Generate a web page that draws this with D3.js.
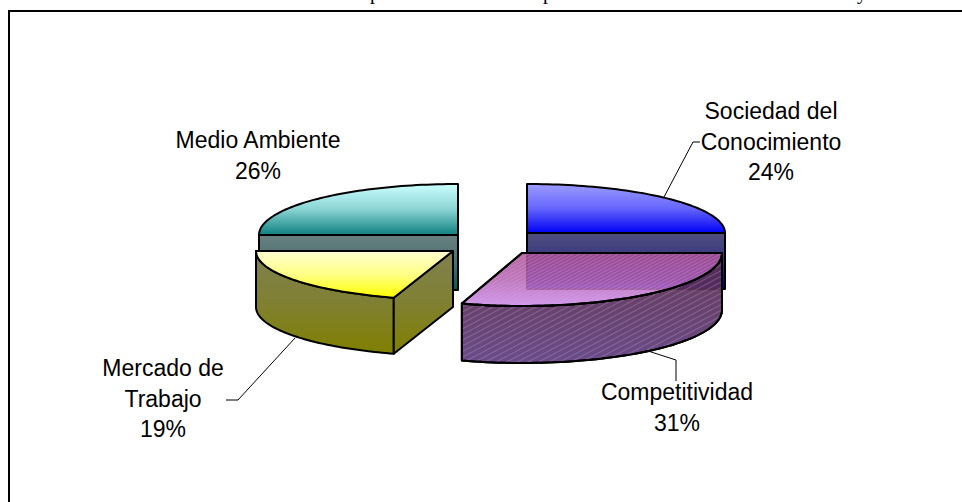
<!DOCTYPE html>
<html>
<head>
<meta charset="utf-8">
<style>
  html, body { margin: 0; padding: 0; background: #fff; overflow: hidden; }
  text { font-family: "Liberation Sans", Arial, sans-serif; font-size: 23px; fill: #000; }
</style>
<script src="https://d3js.org/d3.v7.min.js"></script>
</head>
<body>
<svg width="962" height="502"></svg>
<script>

var categories = ["Sociedad del Conocimiento", "Competitividad", "Mercado de Trabajo", "Medio Ambiente"];
var shares = [24, 31, 19, 26];
var labelLines = [["Sociedad del", "Conocimiento", "24%"], ["Competitividad", "31%"], ["Mercado de", "Trabajo", "19%"], ["Medio Ambiente", "26%"]];
var clippedLetters = ["p", "p", "y"];

var svg = d3.select("svg");
var defs = svg.append("defs");

// the tilted pie squeezes the angles a bit, this maps pie angle -> drawn angle
var deg = Math.PI / 180;
var warp = d3.scaleLinear()
    .domain([0, 86.4, 198, 266.4, 360].map(function(d) { return d * deg; }))
    .range([0, 90, 197.5, 270, 360].map(function(d) { return d * deg; }));

var pie = d3.pie().sort(null);
var arcs = pie(shares);

// exploded slices: each one has its own apex and ellipse
var slices = [
  { cx: 527, cy: 233, rx: 198, ry: 49, depth: 56, top: ["#9c9cff", "#0000f5"], side: ["#50507e", "#00008a"] },
  { cx: 522, cy: 253, rx: 200, ry: 53, depth: 57, top: ["#a84c90", "#c888e8"], side: ["#5a2c50", "#5e3c80"] },
  { cx: 453, cy: 251, rx: 197, ry: 49, depth: 56, top: ["#ffffd0", "#ffff00"], side: ["#80804f", "#808000"] },
  { cx: 458, cy: 235, rx: 199, ry: 51, depth: 55, top: ["#ccffff", "#0e8080"], side: ["#6a8080", "#0a5a5a"] }
];

slices.forEach(function(s, i) {
  s.a0 = warp(arcs[i].startAngle);
  s.a1 = warp(arcs[i].endAngle);
  ["top", "side"].forEach(function(part) {
    var grad = defs.append("linearGradient")
        .attr("id", part + i)
        .attr("x1", 0).attr("y1", 0).attr("x2", 0).attr("y2", 1);
    grad.append("stop").attr("offset", "0%").attr("stop-color", s[part][0]);
    grad.append("stop").attr("offset", "50%").attr("stop-color", d3.interpolateRgb(s[part][0], s[part][1])(0.35));
    grad.append("stop").attr("offset", "100%").attr("stop-color", s[part][1]);
  });
});

// hatching of the Competitividad slice
function hatch(id, size, color, width) {
  var p = defs.append("pattern")
      .attr("id", id)
      .attr("patternUnits", "userSpaceOnUse")
      .attr("width", size).attr("height", size)
      .attr("patternTransform", "rotate(62)");
  p.append("line")
      .attr("x1", size / 2).attr("y1", 0).attr("x2", size / 2).attr("y2", size)
      .attr("stroke", color).attr("stroke-width", width);
}
hatch("hatchSide", 5, "#b9a4c8", 1);
hatch("hatchTop", 3, "#e0a8e8", 1);

function pt(s, a, dy) {
  return [s.cx + s.rx * Math.sin(a), s.cy - s.ry * Math.cos(a) + (dy || 0)];
}

function arcPoints(s, a0, a1, dy) {
  var n = 60;
  return d3.range(n + 1).map(function(k) { return pt(s, a0 + (a1 - a0) * k / n, dy); });
}

var line = d3.line();

function topPath(s) {
  return line([[s.cx, s.cy]].concat(arcPoints(s, s.a0, s.a1))) + "Z";
}

// outer wall, only the part of the rim that faces the viewer
function wallPath(s) {
  var a0 = Math.max(s.a0, 90 * deg), a1 = Math.min(s.a1, 270 * deg);
  if (a1 <= a0) return null;
  return line(arcPoints(s, a0, a1).concat(arcPoints(s, a1, a0, s.depth))) + "Z";
}

// flat cut face that is turned to the viewer
function cutPath(s, a) {
  var p = pt(s, a);
  return line([[s.cx, s.cy], p, [p[0], p[1] + s.depth], [s.cx, s.cy + s.depth]]) + "Z";
}

var faces = [
  { slice: 3, d: cutPath(slices[3], slices[3].a0), fill: "url(#side3)" },
  { slice: 3, d: topPath(slices[3]), fill: "url(#top3)" },
  { slice: 0, d: cutPath(slices[0], slices[0].a1), fill: "url(#side0)" },
  { slice: 0, d: topPath(slices[0]), fill: "url(#top0)" },
  { slice: 2, d: wallPath(slices[2]), fill: "url(#side2)" },
  { slice: 2, d: cutPath(slices[2], slices[2].a0), fill: "url(#side2)" },
  { slice: 2, d: topPath(slices[2]), fill: "url(#top2)" },
  { slice: 1, d: wallPath(slices[1]), fill: "url(#side1)", op: 0.92 },
  { slice: 1, d: wallPath(slices[1]), fill: "url(#hatchSide)", op: 0.35 },
  { slice: 1, d: topPath(slices[1]), fill: "url(#top1)", op: 0.85 },
  { slice: 1, d: topPath(slices[1]), fill: "url(#hatchTop)", op: 0.3 }
];

svg.append("g").selectAll("path")
  .data(faces)
  .enter().append("path")
    .attr("d", function(d) { return d.d; })
    .attr("fill", function(d) { return d.fill; })
    .attr("fill-opacity", function(d) { return d.op || 1; })
    .attr("stroke", "#000")
    .attr("stroke-width", 2)
    .attr("stroke-linejoin", "round");

// frame, the crop cuts off its right and bottom sides
svg.append("path")
  .attr("d", "M962,11H9V502")
  .attr("fill", "none")
  .attr("stroke", "#000")
  .attr("stroke-width", 2);

// bottoms of the cropped line of text above the frame
var clipX = [375, 548, 862];
svg.append("g").selectAll("text")
  .data(clippedLetters)
  .enter().append("text")
    .attr("x", function(d, i) { return clipX[i]; })
    .attr("y", -1)
    .attr("text-anchor", "middle")
    .style("font-family", "'Liberation Serif', serif")
    .style("font-size", "20px")
    .text(function(d) { return d; });

// labels
var labelPos = [
  { x: 771, y: 119 },
  { x: 677, y: 400 },
  { x: 163, y: 376 },
  { x: 258, y: 148 }
];
var leaders = [
  [[664, 197], [693, 142], [700, 142]],
  [[645, 350], [676, 360], [676, 381]],
  [[295, 338], [238, 400], [226, 400]]
];

svg.append("g").selectAll("path")
  .data(leaders)
  .enter().append("path")
    .attr("d", line)
    .attr("fill", "none")
    .attr("stroke", "#000")
    .attr("stroke-width", 1);

var labels = svg.append("g").selectAll("text")
  .data(labelLines)
  .enter().append("text")
    .attr("text-anchor", "middle")
    .attr("transform", function(d, i) { return "translate(" + labelPos[i].x + "," + labelPos[i].y + ")"; });

labels.selectAll("tspan")
  .data(function(d) { return d; })
  .enter().append("tspan")
    .attr("x", 0)
    .attr("y", function(d, i) { return i * 30.5; })
    .text(function(d) { return d; });

</script>
</body>
</html>
